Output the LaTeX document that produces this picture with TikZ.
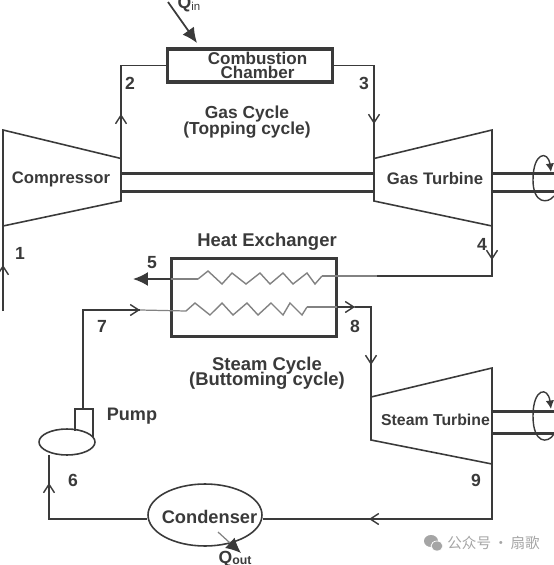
\documentclass[tikz,border=0pt]{standalone}
\usepackage{fontspec}
\setmainfont{Liberation Sans}
\newfontfamily\cjkfont{Noto Sans CJK SC}
\usetikzlibrary{arrows.meta, shapes.geometric}
\definecolor{ccInk}{RGB}{58,58,58}
\definecolor{ccSoft}{RGB}{130,130,130}
\definecolor{ccMark}{RGB}{165,165,165}
\newcommand{\tightlines}{\lineskiplimit=-9pt\relax}
\newcommand{\tightspaces}{\spaceskip=1.4pt\relax}

\begin{document}
\begin{tikzpicture}[
    x=0.02cm, y=-0.02cm,
    pipe/.style={draw=ccInk, line width=0.8pt},
    thinpipe/.style={draw=ccSoft, line width=0.7pt},
    barb/.style={draw=ccInk, line width=0.8pt, -{Straight Barb[length=1.7mm, width=2.2mm]}},
    casing/.style={draw=ccInk, line width=0.9pt, line join=miter},
    shaft/.style={draw=ccInk, line width=1.7pt},
    wall/.style={draw=ccInk, line width=1.9pt, minimum width=3.3cm},
    spin/.style={draw=ccInk, line width=0.8pt, -{Latex[length=1.7mm, width=1.7mm]}},
    heatarr/.style={draw=ccInk, line width=1pt, -{Latex[length=3mm, width=2.8mm]}},
    coil/.style={draw=ccSoft, line width=0.8pt, line join=miter},
    lbl/.style={text=ccInk, font=\bfseries\fontsize{10}{10}\selectfont, inner sep=0pt},
    tag/.style={text=ccInk, font=\bfseries\fontsize{9.5}{9.5}\selectfont, inner sep=0pt},
    head/.style={text=ccInk, align=center, inner sep=0pt}
]
\useasboundingbox (0,0) rectangle (554,565);

% --- Compressor and gas turbine casings.
\coordinate (cpTL) at (3,130);
\coordinate (cpTR) at (121,158.5);
\coordinate (cpBR) at (121,201);
\coordinate (cpBL) at (3,226);
\coordinate (gtTL) at (374,158.5);
\coordinate (gtTR) at (492,130);
\coordinate (gtBR) at (492,226);
\coordinate (gtBL) at (374,201);
\draw[casing] (cpTL) -- (cpTR) -- (cpBR) -- (cpBL) -- cycle;
\draw[casing] (gtTL) -- (gtTR) -- (gtBR) -- (gtBL) -- cycle;

% --- Steam turbine casing.
\coordinate (stTL) at (371,397);
\coordinate (stTR) at (492,368);
\coordinate (stBR) at (492,464);
\coordinate (stBL) at (371,440);
\draw[casing] (stTL) -- (stTR) -- (stBR) -- (stBL) -- cycle;

% --- Shafts, with free ends at the right edge.
\coordinate (gtOutA) at (554,173.5);
\coordinate (gtOutB) at (554,191.5);
\coordinate (stOutA) at (554,411.5);
\coordinate (stOutB) at (554,433.5);
\draw[shaft] (121,173.5) -- (374,173.5);
\draw[shaft] (121,191.5) -- (374,191.5);
\draw[shaft] (492,173.5) -- (gtOutA);
\draw[shaft] (492,191.5) -- (gtOutB);
\draw[shaft] (492,411.5) -- (stOutA);
\draw[shaft] (492,433.5) -- (stOutB);

% --- Rotation marks on both shafts.
\draw[spin] (554,196) .. controls (548,204) and (533,204) .. (533,180)
            .. controls (533,152) and (548,150) .. (551,172);
\draw[spin] (554,434) .. controls (548,444) and (533,444) .. (533,416)
            .. controls (533,388) and (548,386) .. (551,409);

% --- Combustion chamber and heat exchanger.
\node[wall, minimum height=0.66cm] (comb) at (250,65.5) {};
\node[head, font=\bfseries\fontsize{9.7}{8.2}\selectfont\tightlines]
    (combLbl) at (257.5,65.5) {Combustion\\Chamber};
\node[wall, minimum height=1.56cm] (hx) at (254,297.5) {};

% --- Gas side pipes.
\coordinate (in1)   at (3,311);
\coordinate (arr1)  at (3,265);
\coordinate (arr2)  at (121,114);
\coordinate (arr3)  at (374,124);
\coordinate (arr4)  at (492,260);
\coordinate (out4)  at (492,276);
\coordinate (mid4)  at (377,276);
\coordinate (coilA) at (322,276);
\coordinate (coilB) at (198,279);
\coordinate (tip5)  at (133,279);
\draw[pipe] (cpBL) -- (in1);
\draw[barb] (in1) -- (arr1);
\draw[pipe] (cpTR) |- (comb.west);
\draw[barb] (cpTR) -- (arr2);
\draw[pipe] (comb.east) -| (gtTL);
\draw[barb] (comb.east -| gtTL) -- (arr3);
\draw[pipe] (gtBR) -- (out4) -- (mid4);
\draw[barb] (gtBR) -- (arr4);
\draw[thinpipe] (mid4) -- (coilA);
\draw[coil] (coilA) -- (315,284) -- (307,273) -- (293,284) -- (283,273)
    -- (270,284) -- (260,273) -- (246,284) -- (232,273) -- (222,284)
    -- (208,271) -- (coilB);
\draw[thinpipe] (coilB) -- (171,279);
\draw[pipe] (171,279) -- (150,279);
\draw[heatarr] (171,279) -- (tip5);

% --- Steam side pipes.
\node[ellipse, draw=ccInk, line width=0.9pt, minimum width=1.12cm,
      minimum height=0.52cm, inner sep=0pt] (pumpBody) at (67,442) {};
\node[ellipse, draw=ccInk, line width=0.9pt, minimum width=2.28cm,
      minimum height=1.24cm, inner sep=0pt] (cond) at (205,515) {};
\coordinate (pumpTL) at (75,431);
\coordinate (pumpTT) at (75,409);
\coordinate (pumpRT) at (93,409);
\coordinate (pumpRB) at (93,437);
\coordinate (top7)   at (83,409);
\coordinate (arr7)   at (140,310);
\coordinate (coilC)  at (186,311);
\coordinate (coilD)  at (307,307);
\coordinate (arr8)   at (355,307);
\coordinate (turn8)  at (371,307);
\coordinate (arr8b)  at (371,365);
\coordinate (low9)   at (492,519);
\coordinate (arr9)   at (369,519);
\coordinate (corn6)  at (49,519);
\coordinate (top6)   at (49,455);
\coordinate (arr6)   at (49,483);
\draw[casing] (pumpTL) -- (pumpTT) -- (pumpRT) -- (pumpRB);
\draw[pipe] (top7) |- (arr7);
\draw[barb] (83,310) -- (arr7);
\draw[thinpipe] (arr7) -- (coilC);
\draw[coil] (coilC) -- (195,303) -- (210,315) -- (222,303) -- (233,315)
    -- (247,303) -- (258,315) -- (271,303) -- (283,315) -- (290,303)
    -- (302,315) -- (coilD);
\draw[thinpipe] (coilD) -- (arr8);
\draw[barb] (337,307) -- (arr8);
\draw[pipe] (arr8) -- (turn8) -- (stTL);
\draw[barb] (turn8) -- (arr8b);
\draw[pipe] (stBR) -- (low9) -- (cond.east |- low9);
\draw[barb] (low9) -- (arr9);
\draw[pipe] (cond.west |- corn6) -- (corn6) -- (top6);
\draw[barb] (corn6) -- (arr6);

% --- Heat in and heat out.
\coordinate (qiStart)  at (168,2);
\coordinate (qiEnd)    at (197,43);
\coordinate (qoStart)  at (218,532);
\coordinate (qoEnd)    at (241,553);
\draw[heatarr] (qiStart) -- (qiEnd);
\draw[thinpipe, -{Latex[length=3mm, width=2.8mm, color=ccInk]}] (qoStart) -- (qoEnd);

% --- Equipment names.
\node[tag] (compLbl) at (61,179.5)  {Compressor};
\node[tag] (gasLbl)  at (435,178.5) {Gas Turbine};
\node[tag, font=\bfseries\fontsize{9}{9}\selectfont] (steamLbl) at (435.5,419.5) {Steam Turbine};
\node[lbl, font=\bfseries\fontsize{10.4}{10.4}\selectfont] (condLbl) at (209.5,517) {Condenser};
\node[lbl, font=\bfseries\fontsize{10.3}{10.3}\selectfont] (pumpLbl) at (132,416) {Pump};
\node[lbl, font=\bfseries\fontsize{10.5}{10.5}\selectfont] (hxLbl) at (267,242) {Heat Exchanger};
\node[head, font=\bfseries\fontsize{9.9}{9.1}\selectfont\tightlines] (gasCyc) at (247,122) {Gas Cycle\\(Topping cycle)};
\node[head, font=\bfseries\fontsize{10.5}{8.7}\selectfont\tightlines] (stmCyc) at (267,373.5) {Steam Cycle\\(Buttoming cycle)};
\node[lbl] (qiLbl) at (189,4) {Q{\mdseries\fontsize{6.5}{6.5}\selectfont\raisebox{-1pt}{in}}};
\node[lbl] (qoLbl) at (235,559) {Q{\fontsize{7}{7}\selectfont\raisebox{-0.5pt}{out}}};

% --- State point numbers.
\node[lbl] (n1) at (20,253)  {1};
\node[lbl] (n2) at (130,83)  {2};
\node[lbl] (n3) at (364,83)  {3};
\node[lbl] (n4) at (482,244) {4};
\node[lbl] (n5) at (152,263) {5};
\node[lbl] (n6) at (73,480)  {6};
\node[lbl] (n7) at (102,326) {7};
\node[lbl] (n8) at (355,326) {8};
\node[lbl] (n9) at (476,480) {9};

% --- Watermark, bottom right.
\fill[ccMark] (431,541) ellipse (7 and 6);
\fill[ccMark, draw=white, line width=0.4pt] (437,546) ellipse (6 and 5);
\node[anchor=west, inner sep=0pt, text=ccMark, font=\cjkfont\fontsize{8.3}{8.3}\selectfont\tightspaces]
    (mark) at (447,543) {公众号 · 扇歌};
\end{tikzpicture}
\end{document}
